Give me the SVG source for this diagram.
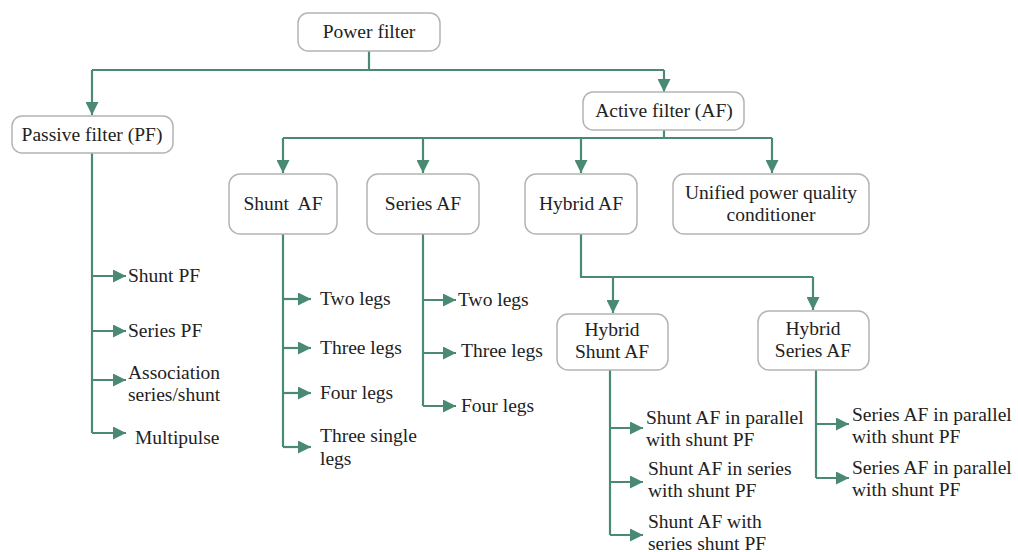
<svg xmlns="http://www.w3.org/2000/svg" width="1018" height="552" viewBox="0 0 1018 552">
<defs>
<marker id="ah" viewBox="0 0 10 10" refX="10" refY="5" markerWidth="13" markerHeight="13" markerUnits="userSpaceOnUse" orient="auto">
<path d="M0,0 L10,5 L0,10 Z" fill="#4a8a72"/>
</marker>
<style>
.box{fill:#fff;stroke:#b4b4b4;stroke-width:1.5}
.c{fill:none;stroke:#4a8a72;stroke-width:2.2}
.a{marker-end:url(#ah)}
text{font-family:"Liberation Serif","Times New Roman",serif;font-size:19.5px;fill:#222}
.m{text-anchor:middle}
</style>
</defs>
<rect width="1018" height="552" fill="#fff"/>
<g id="connectors">
<path class="c" d="M369,51 V70 M92,70 H664"/>
<path class="c a" d="M92,70 V115"/>
<path class="c a" d="M664,70 V92"/>
<path class="c" d="M664,130 V138 M283,138 H772"/>
<path class="c a" d="M283,138 V173"/>
<path class="c a" d="M423,138 V173"/>
<path class="c a" d="M581,138 V173"/>
<path class="c a" d="M772,138 V173"/>
<path class="c" d="M92,153 V433"/>
<path class="c a" d="M92,276 H126"/>
<path class="c a" d="M92,331 H126"/>
<path class="c a" d="M92,380 H126"/>
<path class="c a" d="M92,433 H126"/>
<path class="c" d="M283,234 V447"/>
<path class="c a" d="M283,299 H311"/>
<path class="c a" d="M283,348 H311"/>
<path class="c a" d="M283,393 H311"/>
<path class="c a" d="M283,447 H311"/>
<path class="c" d="M423,234 V406"/>
<path class="c a" d="M423,300 H456"/>
<path class="c a" d="M423,353 H456"/>
<path class="c a" d="M423,406 H456"/>
<path class="c" d="M581,234 V277 H813"/>
<path class="c a" d="M613,277 V313"/>
<path class="c a" d="M813,277 V310"/>
<path class="c" d="M610,370 V535"/>
<path class="c a" d="M610,428 H643"/>
<path class="c a" d="M610,482 H643"/>
<path class="c a" d="M610,535 H643"/>
<path class="c" d="M816,370 V478"/>
<path class="c a" d="M816,424 H849"/>
<path class="c a" d="M816,478 H849"/>
</g>
<g id="power-filter"><rect class="box" x="298" y="13" width="142" height="38" rx="10"/><text class="m" x="369" y="38">Power filter</text></g>
<g id="passive-filter"><rect class="box" x="12" y="116" width="161" height="37" rx="10"/><text class="m" x="92" y="141">Passive filter (PF)</text></g>
<g id="active-filter"><rect class="box" x="583" y="92" width="161" height="38" rx="10"/><text class="m" x="664" y="117">Active filter (AF)</text></g>
<g id="shunt-af"><rect class="box" x="229" y="174" width="108" height="60" rx="11"/><text class="m" x="283" y="210" xml:space="preserve">Shunt  AF</text></g>
<g id="series-af"><rect class="box" x="367" y="174" width="112" height="60" rx="11"/><text class="m" x="423" y="210">Series AF</text></g>
<g id="hybrid-af"><rect class="box" x="525" y="174" width="112" height="60" rx="11"/><text class="m" x="581" y="210">Hybrid AF</text></g>
<g id="upqc"><rect class="box" x="673" y="174" width="196" height="60" rx="11"/><text class="m" x="771" y="199">Unified power quality</text><text class="m" x="771" y="221">conditioner</text></g>
<g id="shunt-pf"><text x="128" y="282">Shunt PF</text></g>
<g id="series-pf"><text x="128" y="337">Series PF</text></g>
<g id="association"><text x="128" y="379">Association</text><text x="128" y="401">series/shunt</text></g>
<g id="multipulse"><text x="135" y="444">Multipulse</text></g>
<g id="shunt-two-legs"><text x="320" y="305">Two legs</text></g>
<g id="shunt-three-legs"><text x="320" y="354">Three legs</text></g>
<g id="shunt-four-legs"><text x="320" y="399">Four legs</text></g>
<g id="shunt-three-single"><text x="320" y="442">Three single</text><text x="320" y="465">legs</text></g>
<g id="series-two-legs"><text x="458" y="306">Two legs</text></g>
<g id="series-three-legs"><text x="461" y="357">Three legs</text></g>
<g id="series-four-legs"><text x="461" y="412">Four legs</text></g>
<g id="hybrid-shunt-af"><rect class="box" x="557" y="314" width="111" height="56" rx="11"/><text class="m" x="612" y="336">Hybrid</text><text class="m" x="612" y="358">Shunt AF</text></g>
<g id="hybrid-series-af"><rect class="box" x="758" y="311" width="111" height="59" rx="11"/><text class="m" x="813" y="335">Hybrid</text><text class="m" x="813" y="357">Series AF</text></g>
<g id="hs-parallel"><text x="646" y="424">Shunt AF in parallel</text><text x="646" y="446">with shunt PF</text></g>
<g id="hs-series"><text x="648" y="475">Shunt AF in series</text><text x="648" y="497">with shunt PF</text></g>
<g id="hs-with"><text x="648" y="528">Shunt AF with</text><text x="648" y="550">series shunt PF</text></g>
<g id="hse-parallel-1"><text x="852" y="421">Series AF in parallel</text><text x="852" y="443">with shunt PF</text></g>
<g id="hse-parallel-2"><text x="852" y="474">Series AF in parallel</text><text x="852" y="496">with shunt PF</text></g>
</svg>
